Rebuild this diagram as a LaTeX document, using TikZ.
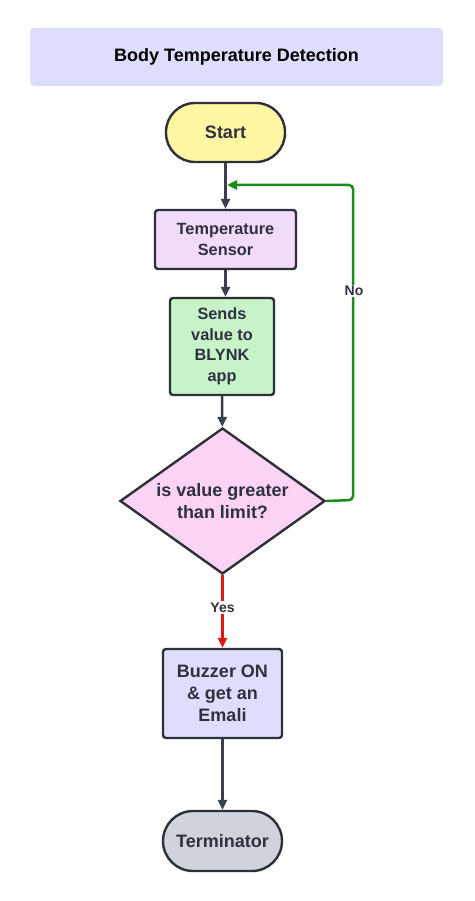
\documentclass[tikz,border=0pt]{standalone}
\usepackage{fontspec}
\setmainfont{Liberation Sans}
\usetikzlibrary{shapes.geometric,arrows.meta}
\definecolor{edge}{HTML}{2E3038}
\definecolor{txt}{HTML}{2F3140}
\definecolor{arr}{HTML}{3A3F4B}
\definecolor{titlebg}{HTML}{DDDEFB}
\definecolor{startbg}{HTML}{FFF6A3}
\definecolor{sensorbg}{HTML}{F1DBFB}
\definecolor{sendbg}{HTML}{C6F4C8}
\definecolor{decbg}{HTML}{FBD3F4}
\definecolor{buzzbg}{HTML}{DDDEFC}
\definecolor{termbg}{HTML}{CFD4DB}
\definecolor{nogreen}{HTML}{1A8C1A}
\definecolor{yesred}{HTML}{DD1A1A}
\tikzset{
  box/.style={draw=edge, line width=2.4pt, rounded corners=3pt, inner sep=0pt, align=center,
    font=\fontsize{16.3}{20.5}\selectfont\bfseries, text=txt},
  bigtext/.style={font=\fontsize{18}{22}\selectfont\bfseries},
  pill/.style={box, rounded corners=29pt},
  flow/.style={draw=arr, line width=2.5pt, -{Triangle[length=10pt,width=9pt]}},
  lbl/.style={fill=white, inner sep=1.5pt, font=\fontsize{14}{16}\selectfont\bfseries, text=txt}
}
\begin{document}
\begin{tikzpicture}[x=1pt,y=-1pt]
\useasboundingbox (0,0) rectangle (474,901);
\fill[white] (0,0) rectangle (474,901);
\node[fill=titlebg, rounded corners=4pt, minimum width=413pt, minimum height=58pt, inner sep=0pt,
  font=\fontsize{18}{22}\selectfont\bfseries, text=black] (title) at (236.5,57) {Body Temperature Detection};
\node[pill, bigtext, fill=startbg, minimum width=119pt, minimum height=59pt] (start) at (225.5,132.5) {Start};
\node[box, fill=sensorbg, minimum width=141pt, minimum height=59pt] (sensor) at (225.5,239.5) {Temperature\\Sensor};
\node[box, fill=sendbg, minimum width=104pt, minimum height=97pt] (sends) at (222,346.5) {Sends\\value to\\BLYNK\\app};
\node[diamond, aspect=1.6, draw=edge, line width=2.4pt, fill=decbg, minimum width=205pt, minimum height=146pt, inner sep=0pt,
  align=center, font=\fontsize{18}{21.5}\selectfont\bfseries, text=txt] (dec) at (222.5,501) {is value greater\\than limit?};
\node[box, bigtext, fill=buzzbg, minimum width=119pt, minimum height=89pt] (buzz) at (222.5,693.5) {Buzzer ON\\\& get an\\Emali};
\node[pill, bigtext, fill=termbg, rounded corners=30pt, minimum width=119pt, minimum height=60pt] (term) at (222.5,841) {Terminator};
\coordinate (corner) at (353,500);
\coordinate (join) at (227,185);
\draw[flow] (start) -- (sensor);
\draw[flow] (sensor.south) -- (sensor.south |- sends.north);
\draw[flow] (sends) -- (dec);
\draw[draw=yesred, line width=2.5pt, -{Triangle[length=10pt,width=9pt]}] (dec.south) -- node[lbl, pos=0.45] {Yes} (buzz.north);
\draw[flow] (buzz) -- (term);
\draw[draw=nogreen, line width=2.5pt, rounded corners=4pt, -{Triangle[length=10pt,width=9pt]}]
  (dec.east) -- (corner) -- (corner |- join) -- (join);
\node[lbl] (no) at (354,291) {No};
\end{tikzpicture}
\end{document}
